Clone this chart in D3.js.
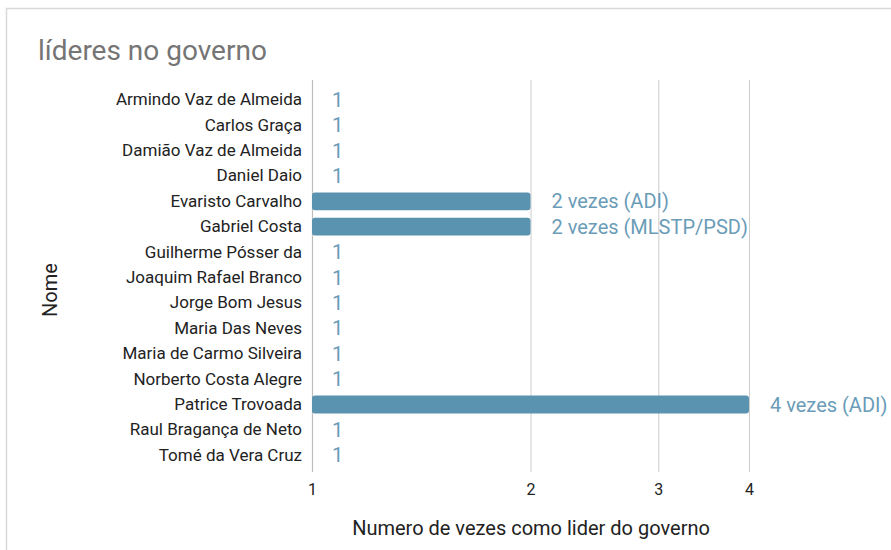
<!DOCTYPE html>
<html><head><meta charset="utf-8">
<script src="https://cdn.jsdelivr.net/npm/d3@7"></script>
<style>body{margin:0;background:#fff;}svg{display:block;font-family:Roboto,"Noto Sans",sans-serif;}</style>
</head><body>
<svg id="c" width="891" height="550"></svg>
<script>
const names = ["Armindo Vaz de Almeida","Carlos Graça","Damião Vaz de Almeida","Daniel Daio","Evaristo Carvalho","Gabriel Costa","Guilherme Pósser da","Joaquim Rafael Branco","Jorge Bom Jesus","Maria Das Neves","Maria de Carmo Silveira","Norberto Costa Alegre","Patrice Trovoada","Raul Bragança de Neto","Tomé da Vera Cruz"];
const counts = [1,1,1,1,2,2,1,1,1,1,1,1,4,1,1];
const valueLabels = ["1","1","1","1","2 vezes (ADI)","2 vezes (MLSTP/PSD)","1","1","1","1","1","1","4 vezes (ADI)","1","1"];
const xTicks = [1,2,3,4];
const title = "líderes no governo";
const xTitle = "Numero de vezes como lider do governo";
const yTitle = "Nome";

const svg = d3.select("#c");
// frame
svg.append("rect").attr("x",6.5).attr("y",8.5).attr("width",900).attr("height",560)
  .attr("fill","none").attr("stroke","#d9d9d9").attr("stroke-width",1.5);

svg.append("text").attr("x",38).attr("y",60).attr("font-size",28).attr("fill","#757575").text(title);

const x = d3.scaleLog().domain([1,4]).range([312,749]);
const y = d3.scaleBand().domain(names).range([87,468]).paddingInner(0.3).paddingOuter(0.15);

// gridlines
svg.append("g").selectAll("line").data(xTicks.slice(1)).join("line")
  .attr("x1",d=>x(d)+0.5).attr("x2",d=>x(d)+0.5).attr("y1",80).attr("y2",472)
  .attr("stroke","#cccccc").attr("stroke-width",1);
svg.append("line").attr("x1",312.5).attr("x2",312.5).attr("y1",80).attr("y2",472)
  .attr("stroke","#bdbdbd").attr("stroke-width",1.2);

// bars
svg.append("g").selectAll("rect").data(names.filter((n,i)=>counts[i]>1)).join("rect")
  .attr("x",312).attr("y",d=>y(d)).attr("height",y.bandwidth())
  .attr("width",d=>x(counts[names.indexOf(d)])-312).attr("rx",3)
  .attr("fill","#5a93b0");

// value labels
svg.append("g").selectAll("text").data(names).join("text")
  .attr("x",(d,i)=>x(counts[i])+ (counts[i]>1?21:20))
  .attr("y",d=>y(d)+y.bandwidth()/2).attr("dy","0.35em")
  .attr("font-size",20).attr("fill","#6a9cb8")
  .text((d,i)=>valueLabels[i]);

// y labels
const yAxis = d3.axisLeft(y).tickSize(0).tickPadding(10);
const gy = svg.append("g").attr("transform","translate(312,0)").call(yAxis);
gy.select(".domain").remove();
gy.selectAll("text").attr("font-size",17).attr("fill","#222").attr("font-family","Roboto,sans-serif");

// x axis labels
const gx = svg.append("g").attr("transform","translate(0,480)")
  .call(d3.axisBottom(x).tickValues(xTicks).tickFormat(d3.format("d")).tickSize(0).tickPadding(4));
gx.select(".domain").remove();
gx.selectAll("text").attr("font-size",16).attr("fill","#222").attr("font-family","Roboto,sans-serif");

svg.append("text").attr("x",531).attr("y",535).attr("text-anchor","middle")
  .attr("font-size",20).attr("fill","#222").text(xTitle);
svg.append("text").attr("transform","translate(57,290) rotate(-90)").attr("text-anchor","middle")
  .attr("font-size",20).attr("fill","#222").text(yTitle);
</script>
</body></html>
